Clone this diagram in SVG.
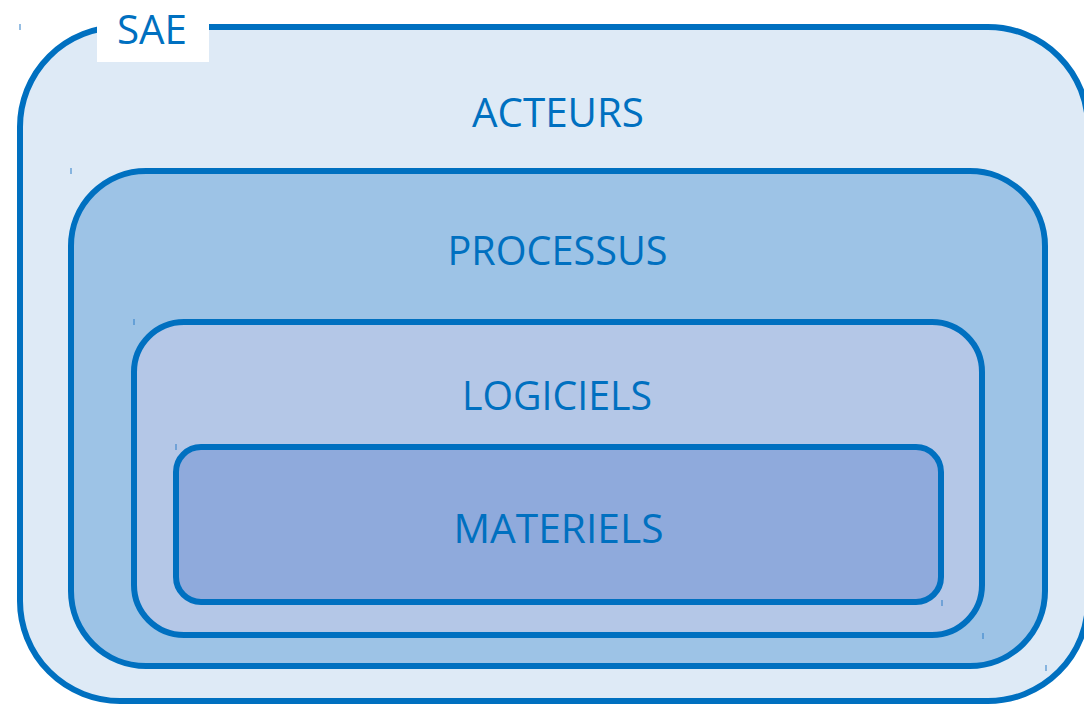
<svg xmlns="http://www.w3.org/2000/svg" width="1084" height="704" viewBox="0 0 1084 704">
<style>
.box{stroke:#0070C0;stroke-width:6}
.lbl{font-family:"Open Sans","Noto Sans","Liberation Sans",sans-serif;font-size:41px;fill:#0070C0;text-anchor:middle}
.tick{fill:#2E7FC8}
</style>
<rect width="1084" height="704" fill="#FFFFFF"/>
<g id="sae">
<rect class="box" x="20" y="27" width="1068" height="674" rx="100" ry="100" fill="#DEEAF6"/>
<rect x="97" y="0" width="112" height="62" fill="#FFFFFF"/>
<text class="lbl" x="152" y="44" textLength="70" lengthAdjust="spacingAndGlyphs">SAE</text>
<text class="lbl" x="558" y="127" textLength="172" lengthAdjust="spacingAndGlyphs">ACTEURS</text>
</g>
<g id="processus">
<rect class="box" x="71" y="171" width="974" height="495" rx="75" ry="75" fill="#9DC3E6"/>
<text class="lbl" x="557.5" y="265" textLength="220" lengthAdjust="spacingAndGlyphs">PROCESSUS</text>
</g>
<g id="logiciels">
<rect class="box" x="134" y="322" width="848" height="313" rx="50" ry="50" fill="#B4C7E7"/>
<text class="lbl" x="557" y="410" textLength="190" lengthAdjust="spacingAndGlyphs">LOGICIELS</text>
</g>
<g id="materiels">
<rect class="box" x="176" y="447" width="765" height="155" rx="25" ry="25" fill="#8FAADC"/>
<text class="lbl" x="558.5" y="543" textLength="210" lengthAdjust="spacingAndGlyphs">MATERIELS</text>
</g>
<g id="connectors"></g>
<g id="ticks">
<rect class="tick" x="19.5" y="24" width="1" height="6"/>
<rect class="tick" x="70.5" y="168" width="1" height="6"/>
<rect class="tick" x="133.5" y="319" width="1" height="6"/>
<rect class="tick" x="175.5" y="444" width="1" height="6"/>
<rect class="tick" x="941.5" y="600" width="1" height="6"/>
<rect class="tick" x="982.5" y="633" width="1" height="6"/>
<rect class="tick" x="1045.5" y="665" width="1" height="6"/>
</g>
</svg>
